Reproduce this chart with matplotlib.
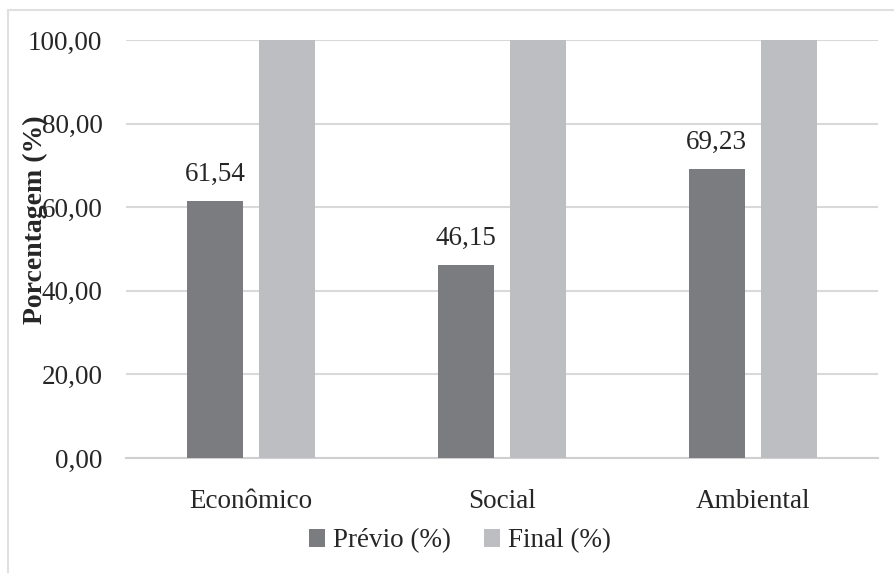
import matplotlib.pyplot as plt
import numpy as np
from matplotlib.patches import Rectangle

categories = ["Econômico", "Social", "Ambiental"]
previo = [61.54, 46.15, 69.23]
final = [100.0, 100.0, 100.0]
series_names = ["Prévio (%)", "Final (%)"]

plt.rcParams['font.family'] = ['Liberation Serif', 'DejaVu Serif']

fig = plt.figure(figsize=(8.95, 5.73), dpi=100)
ax = fig.add_axes([126 / 895, 1 - 458 / 573, 752 / 895, 418 / 573])

# thin outer frame of the chart area
fig.patches.append(Rectangle((8 / 895, -0.1), 1.1, 1.1 - 10 / 573,
                             transform=fig.transFigure, fill=False,
                             edgecolor="#e0e0e0", linewidth=1.5))

x = np.arange(len(categories))
w = 0.223
off = 0.144
b1 = ax.bar(x - off, previo, w, color="#7b7c80", label=series_names[0], zorder=3)
b2 = ax.bar(x + off, final, w, color="#bdbec2", label=series_names[1], zorder=3)

for rect, v in zip(b1, previo):
    ax.text(rect.get_x() + rect.get_width() / 2, v + 3.4,
            f"{v:.2f}".replace(".", ","), ha="center", va="bottom",
            fontsize=19.5, color="#262626")

ax.set_xlim(-0.5, 2.5)
ax.set_ylim(0, 100)
ax.set_yticks(np.arange(0, 101, 20))
ax.set_yticklabels([f"{t:.2f}".replace(".", ",") for t in np.arange(0, 101, 20)])
ax.set_xticks(x)
ax.set_xticklabels(categories)
ax.tick_params(axis="both", length=0, labelsize=19.5, labelcolor="#262626")
ax.tick_params(axis="y", pad=17)
ax.tick_params(axis="x", pad=22)
ax.yaxis.grid(True, color="#d9d9d9", linewidth=1.5, zorder=0)
ax.set_axisbelow(True)
for s in ["top", "right", "left"]:
    ax.spines[s].set_visible(False)
ax.spines["bottom"].set_color("#d0d0d0")
ax.spines["bottom"].set_linewidth(1.5)

fig.text(35 / 895, 1 - 220 / 573, "Porcentagem (%)", rotation=90,
         ha="center", va="center", fontsize=20, fontweight="bold",
         color="#262626")

leg = fig.legend(handles=[b1, b2], labels=series_names, loc="center",
                 bbox_to_anchor=(460 / 895, 1 - 541 / 573), ncol=2,
                 frameon=False, fontsize=19.5, handlelength=0.6,
                 handleheight=0.6, handletextpad=0.3, columnspacing=1.2,
                 labelcolor="#262626")

fig.savefig("out.png", dpi=100)
